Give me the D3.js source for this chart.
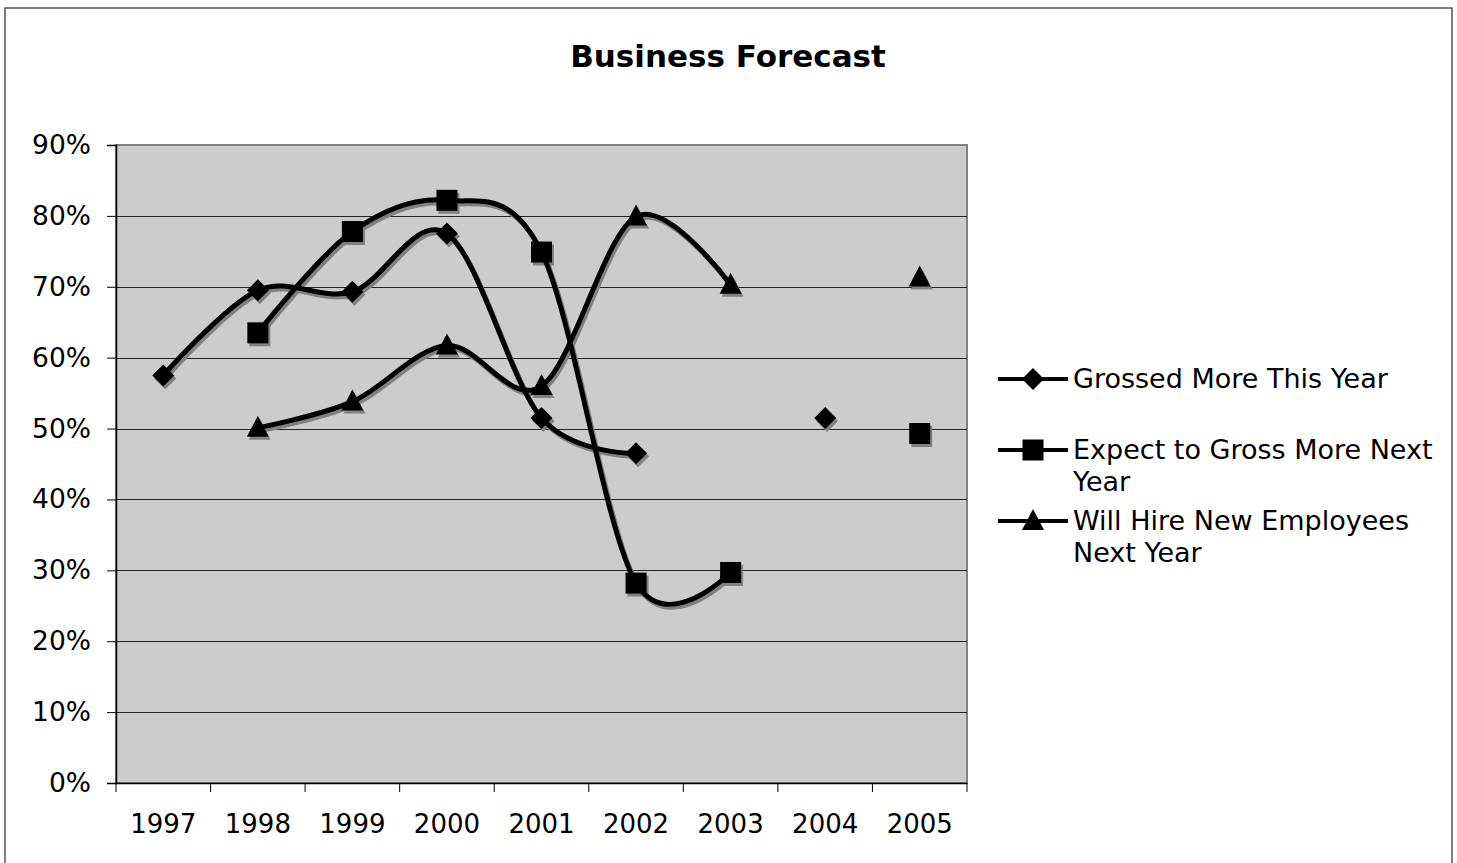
<!DOCTYPE html>
<html>
<head>
<meta charset="utf-8">
<script src="https://cdn.jsdelivr.net/npm/d3@7"></script>
<style>
  body { margin: 0; background: #fff; }
  text { font-family: "DejaVu Sans", Verdana, sans-serif; fill: #000; }
</style>
</head>
<body>
<div id="chart"></div>
<script>

  ///////////////////////////////// Data /////////////////////////////////
  var years = ["1997", "1998", "1999", "2000", "2001", "2002", "2003", "2004", "2005"]
  var grossed = [0.575, 0.695, 0.693, 0.775, 0.515, 0.465, null, 0.515, null]
  var expect  = [null, 0.635, 0.778, 0.822, 0.749, 0.282, 0.297, null, 0.493]
  var hire    = [null, 0.501, 0.538, 0.617, 0.560, 0.799, 0.703, null, 0.713]
  var seriesNames = ["Grossed More This Year", "Expect to Gross More Next Year", "Will Hire New Employees Next Year"]
  var yTicks = [0, 0.1, 0.2, 0.3, 0.4, 0.5, 0.6, 0.7, 0.8, 0.9]

  var series = [
    { name: seriesNames[0], values: grossed, shape: "diamond", legend: ["Grossed More This Year"] },
    { name: seriesNames[1], values: expect, shape: "square", legend: ["Expect to Gross More Next", "Year"] },
    { name: seriesNames[2], values: hire, shape: "triangle", legend: ["Will Hire New Employees", "Next Year"] }
  ]

  ///////////////////////////////// Setup /////////////////////////////////
  var W = 1457, H = 863
  var plot = { left: 116, right: 967, top: 145, bottom: 783 }

  var svg = d3.select("#chart").append("svg")
    .attr("width", W)
    .attr("height", H)

  // outer chart frame
  svg.append("rect")
    .attr("x", 5).attr("y", 8)
    .attr("width", 1447).attr("height", 870)
    .attr("fill", "#fff")
    .attr("stroke", "#555")
    .attr("stroke-width", 1.5)

  var x = d3.scaleBand()
    .domain(years)
    .range([plot.left, plot.right])

  var y = d3.scaleLinear()
    .domain([0, 0.9])
    .range([plot.bottom, plot.top])

  // plot background
  svg.append("rect")
    .attr("x", plot.left).attr("y", plot.top)
    .attr("width", plot.right - plot.left)
    .attr("height", plot.bottom - plot.top)
    .attr("fill", "#cccccc")
    .attr("stroke", "#808080")
    .attr("stroke-width", 2)

  // grid lines
  svg.append("g").selectAll("line")
    .data(yTicks.filter(d => d > 0 && d < 0.9))
    .join("line")
      .attr("x1", plot.left).attr("x2", plot.right)
      .attr("y1", d => Math.round(y(d)) + 0.5)
      .attr("y2", d => Math.round(y(d)) + 0.5)
      .attr("stroke", "#222")
      .attr("stroke-width", 1)

  // y axis
  var yAxis = d3.axisLeft(y)
    .tickValues(yTicks)
    .tickFormat(d3.format(".0%"))
    .tickSize(9)
    .tickPadding(16)

  var gy = svg.append("g")
    .attr("transform", "translate(" + plot.left + ",0)")
    .call(yAxis)
  gy.select(".domain").attr("stroke", "#000").attr("stroke-width", 1.5)
  gy.selectAll(".tick line").attr("stroke", "#000")
  gy.selectAll("text").style("font-size", "26.5px").attr("font-family", "DejaVu Sans")

  // x axis, ticks on band edges
  var xAxis = d3.axisBottom(x).tickSize(0).tickPadding(32)
  var gx = svg.append("g")
    .attr("transform", "translate(0," + plot.bottom + ")")
    .call(xAxis)
  gx.select(".domain").attr("stroke", "#000").attr("stroke-width", 1.5)
  gx.selectAll("text").style("font-size", "26px").attr("font-family", "DejaVu Sans")

  svg.append("g").selectAll("line")
    .data(d3.range(years.length + 1))
    .join("line")
      .attr("x1", i => plot.left + i * x.step())
      .attr("x2", i => plot.left + i * x.step())
      .attr("y1", plot.bottom)
      .attr("y2", plot.bottom + 9)
      .attr("stroke", "#000")

  // title
  svg.append("text")
    .attr("x", 728).attr("y", 67)
    .attr("text-anchor", "middle")
    .style("font-size", "31px")
    .style("font-weight", "bold")
    .text("Business Forecast")

  ///////////////////////////////// Lines /////////////////////////////////
  var line = d3.line()
    .defined(d => d.v !== null)
    .x(d => x(d.year) + x.bandwidth() / 2)
    .y(d => y(d.v))
    .curve(d3.curveCardinal.tension(0))

  function markerPath(shape) {
    if (shape === "diamond") return "M0,-11L11,0L0,11L-11,0Z"
    if (shape === "square") return "M-10.5,-10.5H10.5V10.5H-10.5Z"
    return "M0,-12L11,9H-11Z"
  }

  var layers = [{ dx: 2, dy: 3, color: "#808080" }, { dx: 0, dy: 0, color: "#000" }]

  layers.forEach(function (layer) {
    var g = svg.append("g").attr("transform", "translate(" + layer.dx + "," + layer.dy + ")")
    series.forEach(function (s) {
      var pts = s.values.map((v, i) => ({ year: years[i], v: v }))
      g.append("path")
        .attr("d", line(pts))
        .attr("fill", "none")
        .attr("stroke", layer.color)
        .attr("stroke-width", 5)
        .attr("stroke-linejoin", "round")
      g.selectAll(null)
        .data(pts.filter(d => d.v !== null))
        .join("path")
          .attr("d", markerPath(s.shape))
          .attr("transform", d => "translate(" + (x(d.year) + x.bandwidth() / 2) + "," + y(d.v) + ")")
          .attr("fill", layer.color)
    })
  })

  ///////////////////////////////// Legend /////////////////////////////////
  var legend = svg.append("g")
  series.forEach(function (s, i) {
    var cy = 379 + i * 71
    legend.append("line")
      .attr("x1", 998).attr("x2", 1068)
      .attr("y1", cy).attr("y2", cy)
      .attr("stroke", "#000").attr("stroke-width", 4)
    legend.append("path")
      .attr("d", markerPath(s.shape))
      .attr("transform", "translate(1033," + cy + ")")
      .attr("fill", "#000")
    s.legend.forEach(function (t, j) {
      legend.append("text")
        .attr("x", 1073)
        .attr("y", cy + j * 32)
        .attr("dy", "0.35em")
        .style("font-size", "27px")
        .text(t)
    })
  })

</script>
</body>
</html>
